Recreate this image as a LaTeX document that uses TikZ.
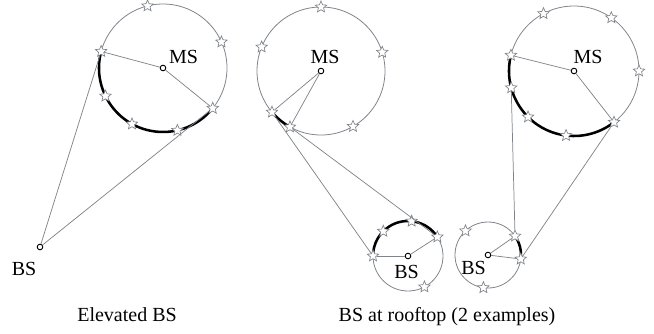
\documentclass[tikz,border=0pt]{standalone}
\usepackage{fontspec}
\setmainfont{Liberation Serif}
\usepackage{xcolor}
\usepackage{tikz}
\usetikzlibrary{shapes.geometric,calc}

\definecolor{ringgray}{RGB}{128,132,138}

\tikzset{
  ring/.style={draw=ringgray, line width=0.6pt},
  link/.style={draw=ringgray, line width=0.55pt},
  beam/.style={draw=black, line width=1.9pt},
  scat/.style={star, star points=5, star point ratio=2.2, minimum size=9pt, inner sep=0pt, draw=ringgray, fill=white, line width=0.5pt},
  pt/.style={circle, draw=black, fill=white, minimum size=4.2pt, inner sep=0pt, line width=0.7pt},
  lbl/.style={anchor=base, inner sep=0pt, font=\fontsize{15}{18}\selectfont}
}

\begin{document}
\begin{tikzpicture}[x=0.75pt,y=0.75pt,yscale=-1,xscale=1]
\useasboundingbox (0,0) rectangle (654,333);

%Centres
\coordinate (c1) at (163,68);
\coordinate (c2) at (321,71);
\coordinate (c3) at (408,256);
\coordinate (c4) at (574,71);
\coordinate (c5) at (488,255);

%Circles
\draw [ring] (c1) circle [radius=64];
\draw [ring] (c2) circle [radius=64];
\draw [ring] (c3) circle [radius=35];
\draw [ring] (c4) circle [radius=65];
\draw [ring] (c5) circle [radius=33];

%Curve Lines (visible arcs)
\draw [beam] ($(c1)+(-165:64)$) arc [start angle=-165, end angle=-321, radius=64];
\draw [beam] ($(c2)+(-220:64)$) arc [start angle=-220, end angle=-241, radius=64];
\draw [beam] ($(c3)+(-33:35)$) arc [start angle=-33, end angle=-180, radius=35];
\draw [beam] ($(c4)+(-166:65)$) arc [start angle=-166, end angle=-308, radius=65];
\draw [beam] ($(c5)+(7:33)$) arc [start angle=7, end angle=-35, radius=33];

%Stations
\node [pt] (ms1) at (c1) {};
\node [pt] (bs1) at (40,247) {};
\node [pt] (ms2) at (c2) {};
\node [pt] (bs2) at (c3) {};
\node [pt] (ms3) at (c4) {};
\node [pt] (bs3) at (c5) {};

%Scatterers
\foreach \a in {104,24,206,241,283}
  \node [scat] at ($(c1)+(-\a:64)$) {};
\node [scat] (m1a) at ($(c1)+(-165:64)$) {};
\node [scat] (m1b) at ($(c1)+(-321:64)$) {};

\foreach \a in {90,158,17,300}
  \node [scat] at ($(c2)+(-\a:64)$) {};
\node [scat] (m2a) at ($(c2)+(-220:64)$) {};
\node [scat] (m2b) at ($(c2)+(-241:64)$) {};

\foreach \a in {135,84,-62}
  \node [scat] at ($(c3)+(-\a:35)$) {};
\node [scat] (b2a) at ($(c3)+(-180:35)$) {};
\node [scat] (b2b) at ($(c3)+(-33:35)$) {};

\foreach \a in {118,55,0,225,263}
  \node [scat] at ($(c4)+(-\a:65)$) {};
\node [scat] (m3a) at ($(c4)+(-166:65)$) {};
\node [scat] (m3b) at ($(c4)+(-308:65)$) {};
\node [scat] (m3c) at ($(c4)+(-195:65)$) {};

\foreach \a in {133,262}
  \node [scat] at ($(c5)+(-\a:33)$) {};
\node [scat] (b3a) at ($(c5)+(-35:33)$) {};
\node [scat] (b3b) at ($(c5)+(7:33)$) {};

%Straight Lines
\draw [link] (ms1) -- (m1a);
\draw [link] (ms1) -- (m1b);
\draw [link] (bs1) -- (m1a);
\draw [link] (bs1) -- (m1b);

\draw [link] (ms2) -- (m2a);
\draw [link] (ms2) -- (m2b);
\draw [link] (m2a) -- (b2a);
\draw [link] (m2b) -- (b2b);
\draw [link] (bs2) -- (b2a);
\draw [link] (bs2) -- (b2b);

\draw [link] (ms3) -- (m3a);
\draw [link] (ms3) -- (m3b);
\draw [link] (m3c) -- (b3a);
\draw [link] (m3b) -- (b3b);
\draw [link] (bs3) -- (b3a);
\draw [link] (bs3) -- (b3b);

% Text Node
\node [lbl] (ms1lbl) at (183.5,63) {MS};
\node [lbl] (ms2lbl) at (325,63) {MS};
\node [lbl] (ms3lbl) at (588,63) {MS};
\node [lbl] (bs1lbl) at (24,275) {BS};
\node [lbl] (bs2lbl) at (406.5,278) {BS};
\node [lbl] (bs3lbl) at (473.5,274) {BS};
% Text Node
\node [lbl] (cap1) at (127,321) {Elevated BS};
\node [lbl] (cap2) at (447,321) {BS at rooftop (2 examples)};
\end{tikzpicture}
\end{document}
